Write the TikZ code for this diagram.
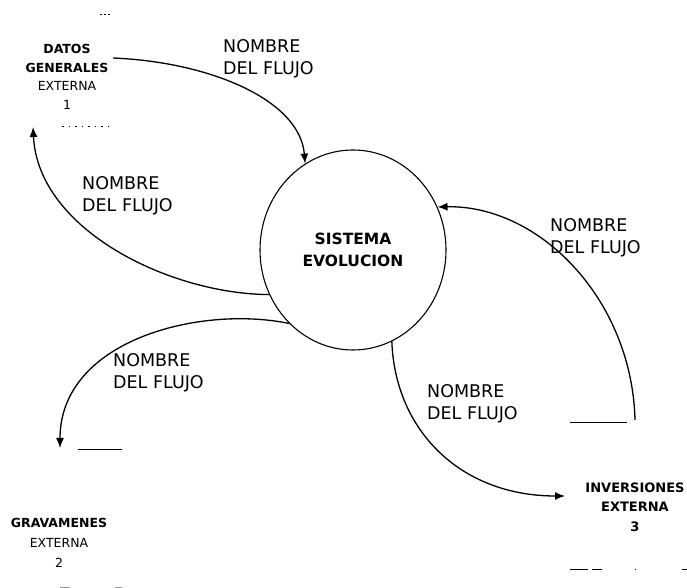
\documentclass[tikz,border=0pt]{standalone}
\usepackage{fontspec}
\setmainfont{DejaVu Sans}
\usetikzlibrary{arrows.meta,shapes.geometric}

\tikzset{sistema/.style = {ellipse, draw, line width=1.1pt,
                           minimum width=186pt, minimum height=200pt,
                           align=center, font=\bfseries\fontsize{15.5}{22}\selectfont},
         externa/.style = {align=center, inner sep=0pt,
                           font=\fontsize{12.5}{#1}\selectfont},
         externa/.default=19pt,
         flujo/.style = {line width=1.3pt, -{Latex[length=10pt,width=8pt]}},
         etiq/.style = {anchor=west, align=left, inner sep=0pt,
                        font=\fontsize{17.5}{22}\selectfont},
         borde/.style = {line width=0.9pt}
        }

\begin{document}
\begin{tikzpicture}[x=1pt, y=1pt]
  \useasboundingbox (0,0) rectangle (687,588);

  % proceso central
  \node[sistema] (sys) at (353,338) {SISTEMA\\EVOLUCION};

  % entidades externas
  \node[externa=18.5pt] (ent1) at (67,511) {\textbf{DATOS}\\\textbf{GENERALES}\\EXTERNA\\1};
  \node[externa=20pt] (ent2) at (59,45) {\textbf{GRAVAMENES}\\EXTERNA\\2};
  \node[externa=19.5pt, font=\bfseries\fontsize{13}{19.5}\selectfont] (ent3) at (635,81) {INVERSIONES\\EXTERNA\\3};

  % restos de los recuadros
  \draw[borde, dash pattern=on 2pt off 2pt] (100,574) -- (110,574);
  \draw[borde, dash pattern=on 1.5pt off 5pt] (62,462) -- (108,462);
  \draw[borde] (78,139) -- (122,139);
  \draw[borde, black!40] (60,1) -- (70,1) (115,1) -- (122,1);
  \draw[borde] (570,166) -- (627,166);
  \draw[borde, dash pattern=on 18pt off 4pt on 10pt off 33pt on 1pt off 46pt on 5pt] (570,19) -- (687,19);

  % puntos libres de los flujos
  \coordinate (f1) at (113,530);
  \coordinate (f2) at (33,461);
  \coordinate (f3) at (60,140);
  \coordinate (f4) at (565,92);
  \coordinate (f5) at (635,168);

  % flujos
  \draw[flujo] (f1) .. controls (210,526) and (300,488) .. (sys.119);
  \draw[flujo] (sys.208) .. controls (170,294) and (38,358) .. (f2);
  \draw[flujo] (sys.229) .. controls (200,283) and (60,248) .. (f3);
  \draw[flujo] (sys.293) .. controls (395,158) and (460,92) .. (f4);
  \draw[flujo] (f5) .. controls (632,288) and (540,383) .. (sys.27);

  % etiquetas
  \node[etiq] (n1) at (223,529.5) {NOMBRE\\DEL FLUJO};
  \node[etiq] (n2) at (82,392) {NOMBRE\\DEL FLUJO};
  \node[etiq] (n3) at (113,215) {NOMBRE\\DEL FLUJO};
  \node[etiq] (n4) at (427,184) {NOMBRE\\DEL FLUJO};
  \node[etiq] (n5) at (550,350.5) {NOMBRE\\DEL FLUJO};
\end{tikzpicture}
\end{document}
